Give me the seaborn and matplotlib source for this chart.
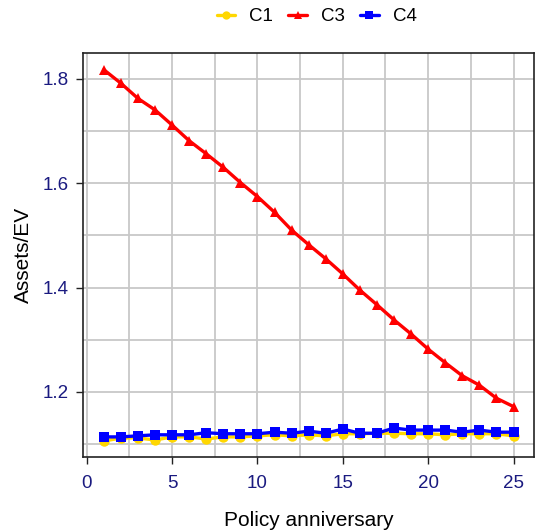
import numpy as np
import pandas as pd
import matplotlib
matplotlib.use("Agg")
import matplotlib.pyplot as plt
import seaborn as sns
from matplotlib.ticker import MultipleLocator

years = list(range(1, 26))
c1 = [1.106, 1.112, 1.112, 1.108, 1.114, 1.114, 1.110, 1.114, 1.114, 1.116,
      1.118, 1.116, 1.118, 1.116, 1.120, 1.120, 1.121, 1.121, 1.120, 1.120,
      1.118, 1.120, 1.120, 1.120, 1.116]
c3 = [1.817, 1.791, 1.762, 1.740, 1.711, 1.681, 1.656, 1.630, 1.601, 1.574,
      1.544, 1.510, 1.482, 1.455, 1.426, 1.395, 1.367, 1.338, 1.311, 1.282,
      1.256, 1.231, 1.213, 1.188, 1.172]
c4 = [1.114, 1.114, 1.116, 1.118, 1.118, 1.118, 1.122, 1.120, 1.120, 1.120,
      1.123, 1.121, 1.125, 1.121, 1.129, 1.121, 1.121, 1.131, 1.127, 1.127,
      1.127, 1.123, 1.127, 1.123, 1.123]
series_names = ["C1", "C3", "C4"]

df = pd.DataFrame({
    "year": years * 3,
    "value": c1 + c3 + c4,
    "series": ["C1"] * 25 + ["C3"] * 25 + ["C4"] * 25,
})

sns.set_style("white")
plt.rcParams["font.family"] = ["Liberation Sans", "DejaVu Sans"]
plt.rcParams["text.color"] = "black"
plt.rcParams["axes.labelcolor"] = "black"

fig = plt.figure(figsize=(5.35, 5.32), dpi=100)
ax = fig.add_axes([83 / 535, 1 - 457 / 532, (534 - 83) / 535, (457 - 53) / 532])

palette = {"C1": "#FFD700", "C3": "#FF0000", "C4": "#0000FF"}
markers = {"C1": "o", "C3": "^", "C4": "s"}
sns.lineplot(data=df, x="year", y="value", hue="series", style="series",
             palette=palette, markers=markers, dashes=False, linewidth=2.4,
             markersize=7.5, markeredgewidth=0, ax=ax, legend=True)

ax.set_xlim(-0.22, 26.2)
ax.set_ylim(1.0755, 1.849)
ax.xaxis.set_major_locator(MultipleLocator(5))
ax.xaxis.set_minor_locator(MultipleLocator(2.5))
ax.yaxis.set_major_locator(MultipleLocator(0.2))
ax.yaxis.set_minor_locator(MultipleLocator(0.1))
ax.grid(True, which="both", color="#c8c8c8", linewidth=1.3)
ax.set_axisbelow(True)
for s in ax.spines.values():
    s.set_visible(True)
    s.set_color("#222222")
    s.set_linewidth(1.2)
ax.tick_params(axis="both", which="major", direction="out", length=5, width=1,
               color="#222222", labelsize=13.5, labelcolor="#1a1a80",
               bottom=True, left=True)
ax.tick_params(axis="y", which="major", pad=5)
ax.tick_params(axis="x", which="major", pad=8)
ax.tick_params(axis="both", which="minor", length=0)
ax.set_yticks([1.2, 1.4, 1.6, 1.8])
ax.set_yticklabels(["1.2", "1.4", "1.6", "1.8"])
ax.set_xlabel("Policy anniversary", fontsize=15, labelpad=14)
ax.set_ylabel("Assets/EV", fontsize=15, labelpad=7)

handles, labels = ax.get_legend_handles_labels()
ax.legend(handles, labels, loc="center", bbox_to_anchor=(0.518, 1.09), ncol=3,
          frameon=False, fontsize=13.5, handlelength=1.0, columnspacing=0.8,
          handletextpad=0.75, markerscale=0.8)

fig.savefig("out.png", dpi=100)
